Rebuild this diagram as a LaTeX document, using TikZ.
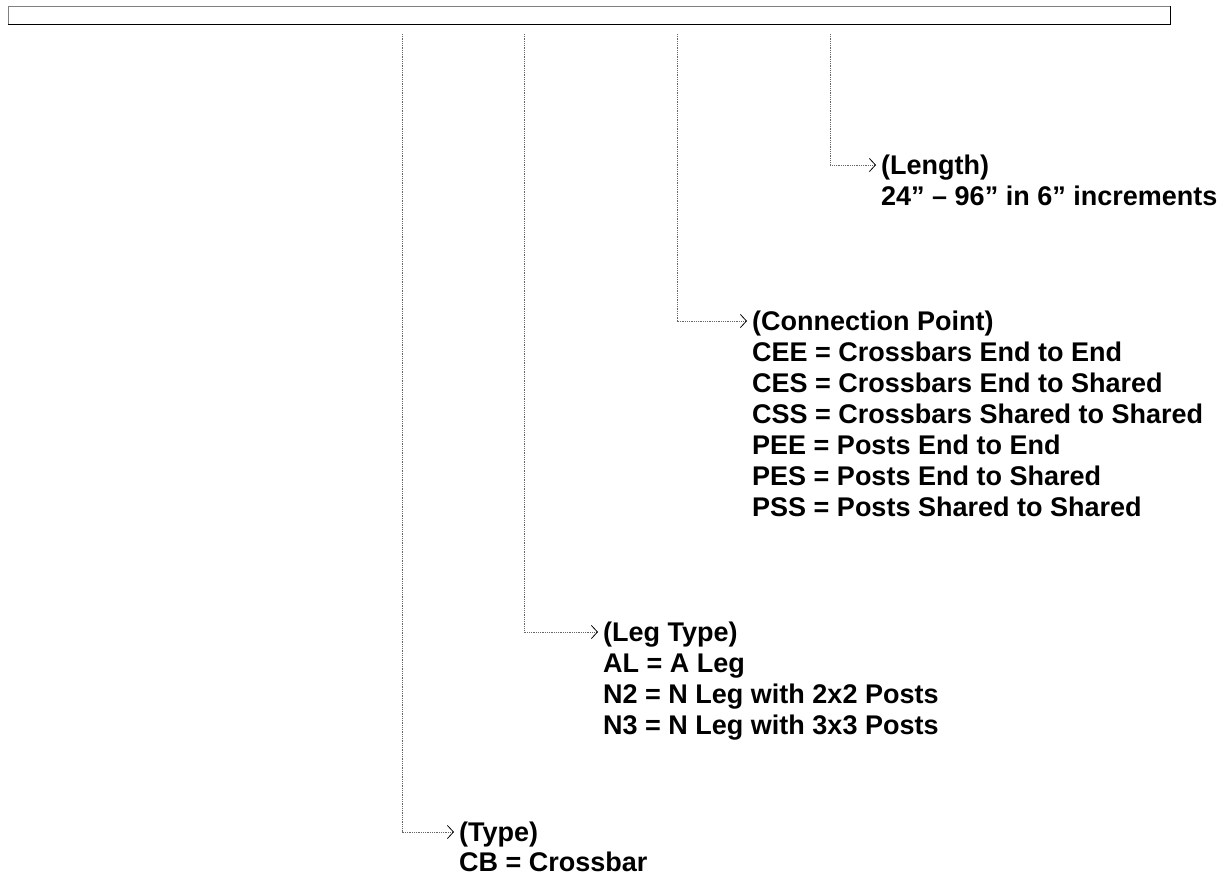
\documentclass[tikz,border=0pt]{standalone}
\usepackage{fontspec}
\setmainfont{Liberation Sans}
\usetikzlibrary{arrows.meta}
\tikzset{
  leader/.style={draw=gray!80!black, line width=0.7pt, dash pattern=on 0.9pt off 0.9pt,
                 -{Straight Barb[length=6pt,width=13pt,black,line width=0.8pt]}, shorten >=5pt},
  headtxt/.style={anchor=west, inner sep=0pt, text height=19.4pt, text depth=0pt,
                  font=\fontsize{27}{31}\selectfont\bfseries},
  bodytxt/.style={anchor=north west, inner sep=0pt, align=left,
                  font=\fontsize{27}{31}\selectfont\bfseries},
  linetxt/.style={anchor=base west, inner sep=0pt,
                  font=\fontsize{27}{31}\selectfont\bfseries},
}
\begin{document}
\begin{tikzpicture}[x=1pt,y=-1pt]
\useasboundingbox (0,0) rectangle (1225,878);
% top bar
\draw[gray, line width=1pt] (8,24) -- (8,6) -- (1170,6);
\draw[black, line width=1pt] (8,24) -- (1170,24) -- (1170,6);
% top coordinates
\coordinate (tType) at (402,34);
\coordinate (tLeg) at (524,34);
\coordinate (tConn) at (677,34);
\coordinate (tLen) at (830,34);
% Length
\node[headtxt] (hLen) at (881,165) {(Length)};
\node[linetxt] (bLen) at ([yshift=-31pt]hLen.base west) {24” – 96” in 6” increments};
% Connection Point
\node[headtxt] (hConn) at (752,321) {(Connection Point)};
\node[bodytxt] (bConn) at ([yshift=-9.3pt]hConn.base west) {\strut CEE = Crossbars End to End\\
CES = Crossbars End to Shared\\
CSS = Crossbars Shared to Shared\\
PEE = Posts End to End\\
PES = Posts End to Shared\\
PSS = Posts Shared to Shared};
% Leg Type
\node[headtxt] (hLeg) at (603,632) {(Leg Type)};
\node[bodytxt] (bLeg) at ([yshift=-9.3pt]hLeg.base west) {\strut AL = A Leg\\
N2 = N Leg with 2x2 Posts\\
N3 = N Leg with 3x3 Posts};
% Type
\node[headtxt] (hType) at (459,832) {(Type)};
\node[linetxt] (bType) at ([yshift=-30pt]hType.base west) {CB = Crossbar};
% leaders
\draw[leader] (tLen) |- (hLen.west);
\draw[leader] (tConn) |- (hConn.west);
\draw[leader] (tLeg) |- (hLeg.west);
\draw[leader] (tType) |- (hType.west);
\end{tikzpicture}
\end{document}
